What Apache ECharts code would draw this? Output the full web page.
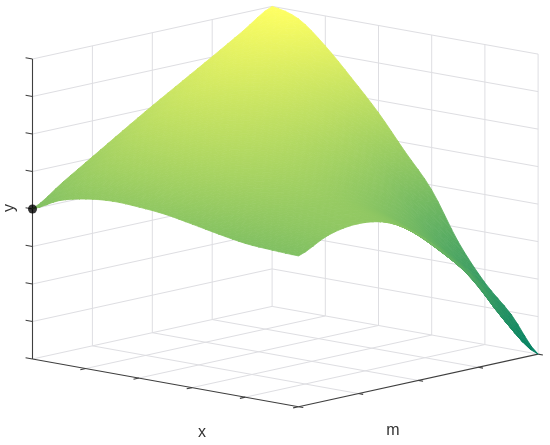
<!DOCTYPE html>
<html>
<head>
<meta charset="utf-8">
<style>html,body{margin:0;padding:0;background:#fff}#c{width:550px;height:445px;filter:blur(0.4px)}</style>
<script src="https://cdn.jsdelivr.net/npm/echarts@6/dist/echarts.min.js"></script>
</head>
<body>
<div id="c"></div>
<script>
// tick positions of the three box axes
var xTicks = [0, 1, 2, 3, 4, 5];
var mTicks = [0, 1, 2, 3, 4];
var yTicks = [0, 1, 2, 3, 4, 5, 6, 7, 8];
// sampling of the surface
var xSamples = [0, 0.5, 1, 1.5, 2, 2.5, 3, 3.5, 4, 4.5, 5];
var mSamples = [0, 0.5, 1, 1.5, 2, 2.5, 3, 3.5, 4];
// surface heights y(x) for every m sample
var yAtM0   = [4.01, 4.35, 4.52, 4.59, 4.56, 4.49, 4.36, 4.22, 4.10, 4.05, 4.02];
var yAtM0_5 = [4.53, 4.89, 5.05, 5.10, 5.06, 4.97, 4.82, 4.66, 4.51, 4.45, 4.40];
var yAtM1   = [5.04, 5.39, 5.52, 5.54, 5.46, 5.32, 5.13, 4.91, 4.72, 4.62, 4.53];
var yAtM1_5 = [5.55, 5.87, 5.93, 5.88, 5.75, 5.53, 5.27, 4.97, 4.71, 4.55, 4.38];
var yAtM2   = [6.05, 6.30, 6.27, 6.12, 5.89, 5.57, 5.20, 4.79, 4.42, 4.16, 3.89];
var yAtM2_5 = [6.53, 6.69, 6.54, 6.27, 5.92, 5.46, 4.97, 4.42, 3.92, 3.54, 3.14];
var yAtM3   = [7.01, 7.06, 6.79, 6.37, 5.90, 5.29, 4.65, 3.95, 3.31, 2.79, 2.25];
var yAtM3_5 = [7.50, 7.40, 6.95, 6.36, 5.71, 4.91, 4.09, 3.20, 2.45, 1.92, 0.95];
var yAtM4   = [8.00, 7.79, 7.20, 6.46, 5.67, 4.76, 3.87, 2.61, 1.65, 0.92, 0.00];
var surfaceRows = [yAtM0, yAtM0_5, yAtM1, yAtM1_5, yAtM2, yAtM2_5, yAtM3, yAtM3_5, yAtM4];
// the marked point: x, m, y
var markedPoint = [0, 0, 4];
var axisNames = ['x', 'm', 'y'];

// orthographic view of the box
var view = {ox: 32.5, oy: 359, xdx: 53.2, xdy: 9.54, mdx: 59.9, mdy: -13.15, ydy: -37.5};
function project(x, m, y) {
  return [view.ox + x * view.xdx + m * view.mdx, view.oy + x * view.xdy + m * view.mdy + y * view.ydy];
}
var yMax = yTicks[yTicks.length - 1], xMax = xTicks[xTicks.length - 1], mMax = mTicks[mTicks.length - 1];

function colourOf(y) { // MATLAB "summer"
  var t = Math.max(0, Math.min(1, y / yMax));
  return 'rgb(' + Math.round(255 * t) + ',' + Math.round(127.5 + 127.5 * t) + ',' + 98 + ')';
}
function triangle(p0, p1, p2, v0, v1, v2) {
  var d1x = p1[0] - p0[0], d1y = p1[1] - p0[1], d2x = p2[0] - p0[0], d2y = p2[1] - p0[1];
  var det = d1x * d2y - d1y * d2x, fill = colourOf((v0 + v1 + v2) / 3);
  var dv1 = v1 - v0, dv2 = v2 - v0;
  if (Math.abs(det) > 1e-6) {
    var gx = (dv1 * d2y - dv2 * d1y) / det, gy = (d1x * dv2 - d2x * dv1) / det, g2 = gx * gx + gy * gy;
    if (g2 > 1e-9) {
      var lo = Math.min(v0, v1, v2), hi = Math.max(v0, v1, v2);
      fill = new echarts.graphic.LinearGradient(
        p0[0] + gx * (lo - v0) / g2, p0[1] + gy * (lo - v0) / g2,
        p0[0] + gx * (hi - v0) / g2, p0[1] + gy * (hi - v0) / g2,
        [{offset: 0, color: colourOf(lo)}, {offset: 1, color: colourOf(hi)}], true);
    }
  }
  return {type: 'polygon', shape: {points: [p0, p1, p2]}, style: {fill: fill, stroke: fill, lineWidth: 0.8, lineJoin: 'round'}};
}

// drawing-level smoothing of the surface (the same idea as a line series' smooth: true)
var SUB = 4;
function cr(a, b, c, d, t) {
  return b + 0.5 * t * (c - a + t * (2 * a - 5 * b + 4 * c - d + t * (3 * (b - c) + d - a)));
}
function clampI(i, n) { return Math.max(0, Math.min(n - 1, i)); }
function smoothHeight(u, v) { // u, v are sample indices, may be fractional
  var nx = xSamples.length, nm = mSamples.length;
  var iu = Math.min(Math.floor(u), nx - 2), iv = Math.min(Math.floor(v), nm - 2);
  var tu = u - iu, tv = v - iv, col = [];
  for (var r = -1; r <= 2; r++) {
    var row = surfaceRows[clampI(iv + r, nm)];
    col.push(cr(row[clampI(iu - 1, nx)], row[clampI(iu, nx)], row[clampI(iu + 1, nx)], row[clampI(iu + 2, nx)], tu));
  }
  return Math.max(0, cr(col[0], col[1], col[2], col[3], tv));
}
function sampleX(u) { return xSamples[0] + u * (xSamples[1] - xSamples[0]); }
function sampleM(v) { return mSamples[0] + v * (mSamples[1] - mSamples[0]); }

// surface cells, back to front
var cells = [];
for (var j = (mSamples.length - 1) * SUB - 1; j >= 0; j--) {
  for (var k = 0; k < (xSamples.length - 1) * SUB; k++) cells.push([k, j]);
}
function renderCell(params, api) {
  var k = api.value(0), j = api.value(1);
  function h(a, b) { return smoothHeight(a / SUB, b / SUB); }
  function px(a, b) { return api.coord(project(sampleX(a / SUB), sampleM(b / SUB), h(a, b))); }
  var a = px(k, j), b = px(k + 1, j), c = px(k + 1, j + 1), d = px(k, j + 1);
  var va = h(k, j), vb = h(k + 1, j), vc = h(k + 1, j + 1), vd = h(k, j + 1);
  return {type: 'group', children: [triangle(a, c, d, va, vc, vd), triangle(a, b, c, va, vb, vc)]};
}

// box lines: each [x1,m1,y1,x2,m2,y2,kind]
var gridSegs = [], axisSegs = [];
xTicks.forEach(function (x) {
  if (x > 0 && x < xMax) gridSegs.push([x, 0, 0, x, mMax, 0, 0]);
  if (x > 0) gridSegs.push([x, mMax, 0, x, mMax, yMax, 0]);
  if (x > 0 && x <= xMax) axisSegs.push([x, 0, 0, x, -0.09, 0, 1]);
});
mTicks.forEach(function (m) {
  if (m > 0 && m < mMax) gridSegs.push([0, m, 0, xMax, m, 0, 0]);
  if (m > 0) gridSegs.push([0, m, 0, 0, m, yMax, 0]);
  axisSegs.push([xMax, m, 0, xMax + 0.09, m, 0, 1]);
});
yTicks.forEach(function (y) {
  gridSegs.push([0, 0, y, 0, mMax, y, 0]);
  gridSegs.push([0, mMax, y, xMax, mMax, y, 0]);
  axisSegs.push([0, 0, y, -0.13, 0, y, 1]);
});
axisSegs.push([0, 0, 0, 0, 0, yMax, 1], [0, 0, 0, xMax, 0, 0, 1], [xMax, 0, 0, xMax, mMax, 0, 1]);

function renderSeg(params, api) {
  var p = api.coord(project(api.value(0), api.value(1), api.value(2)));
  var q = api.coord(project(api.value(3), api.value(4), api.value(5)));
  var isAxis = api.value(6) === 1;
  return {type: 'line', shape: {x1: p[0], y1: p[1], x2: q[0], y2: q[1]},
    style: {stroke: isAxis ? '#3f3f3f' : '#dedee2', lineWidth: isAxis ? 1.1 : 1}};
}
var segDims = {x: 0, y: 3};

var chart = echarts.init(document.getElementById('c'), null, {renderer: 'canvas'});
chart.setOption({
  animation: false,
  backgroundColor: '#fff',
  tooltip: {show: false},
  grid: {left: 0, right: 0, top: 0, bottom: 0},
  xAxis: {type: 'value', min: 0, max: 550, show: false},
  yAxis: {type: 'value', min: 0, max: 445, inverse: true, show: false},
  series: [
    {type: 'custom', coordinateSystem: 'cartesian2d', clip: false, silent: true, z: 1, data: gridSegs, renderItem: renderSeg, encode: segDims},
    {type: 'custom', coordinateSystem: 'cartesian2d', clip: false, silent: true, z: 2, data: axisSegs, renderItem: renderSeg, encode: segDims},
    {type: 'custom', coordinateSystem: 'cartesian2d', clip: false, silent: true, z: 3, data: cells, renderItem: renderCell, encode: {x: 0, y: 1}, progressive: 0},
    {type: 'scatter', silent: true, z: 4, symbol: 'circle', symbolSize: 9, itemStyle: {color: '#000'},
     data: [project(markedPoint[0], markedPoint[1], markedPoint[2])]}
  ],
  graphic: [
    {type: 'text', x: 202, y: 433, style: {text: axisNames[0], font: '16px "Liberation Sans"', fill: '#333', textAlign: 'center', textVerticalAlign: 'middle'}},
    {type: 'text', x: 393, y: 431, style: {text: axisNames[1], font: '16px "Liberation Sans"', fill: '#333', textAlign: 'center', textVerticalAlign: 'middle'}},
    {type: 'text', x: 10, y: 208, rotation: Math.PI / 2, style: {text: axisNames[2], font: '16px "Liberation Sans"', fill: '#333', textAlign: 'center', textVerticalAlign: 'middle'}}
  ]
});
</script>
</body>
</html>
